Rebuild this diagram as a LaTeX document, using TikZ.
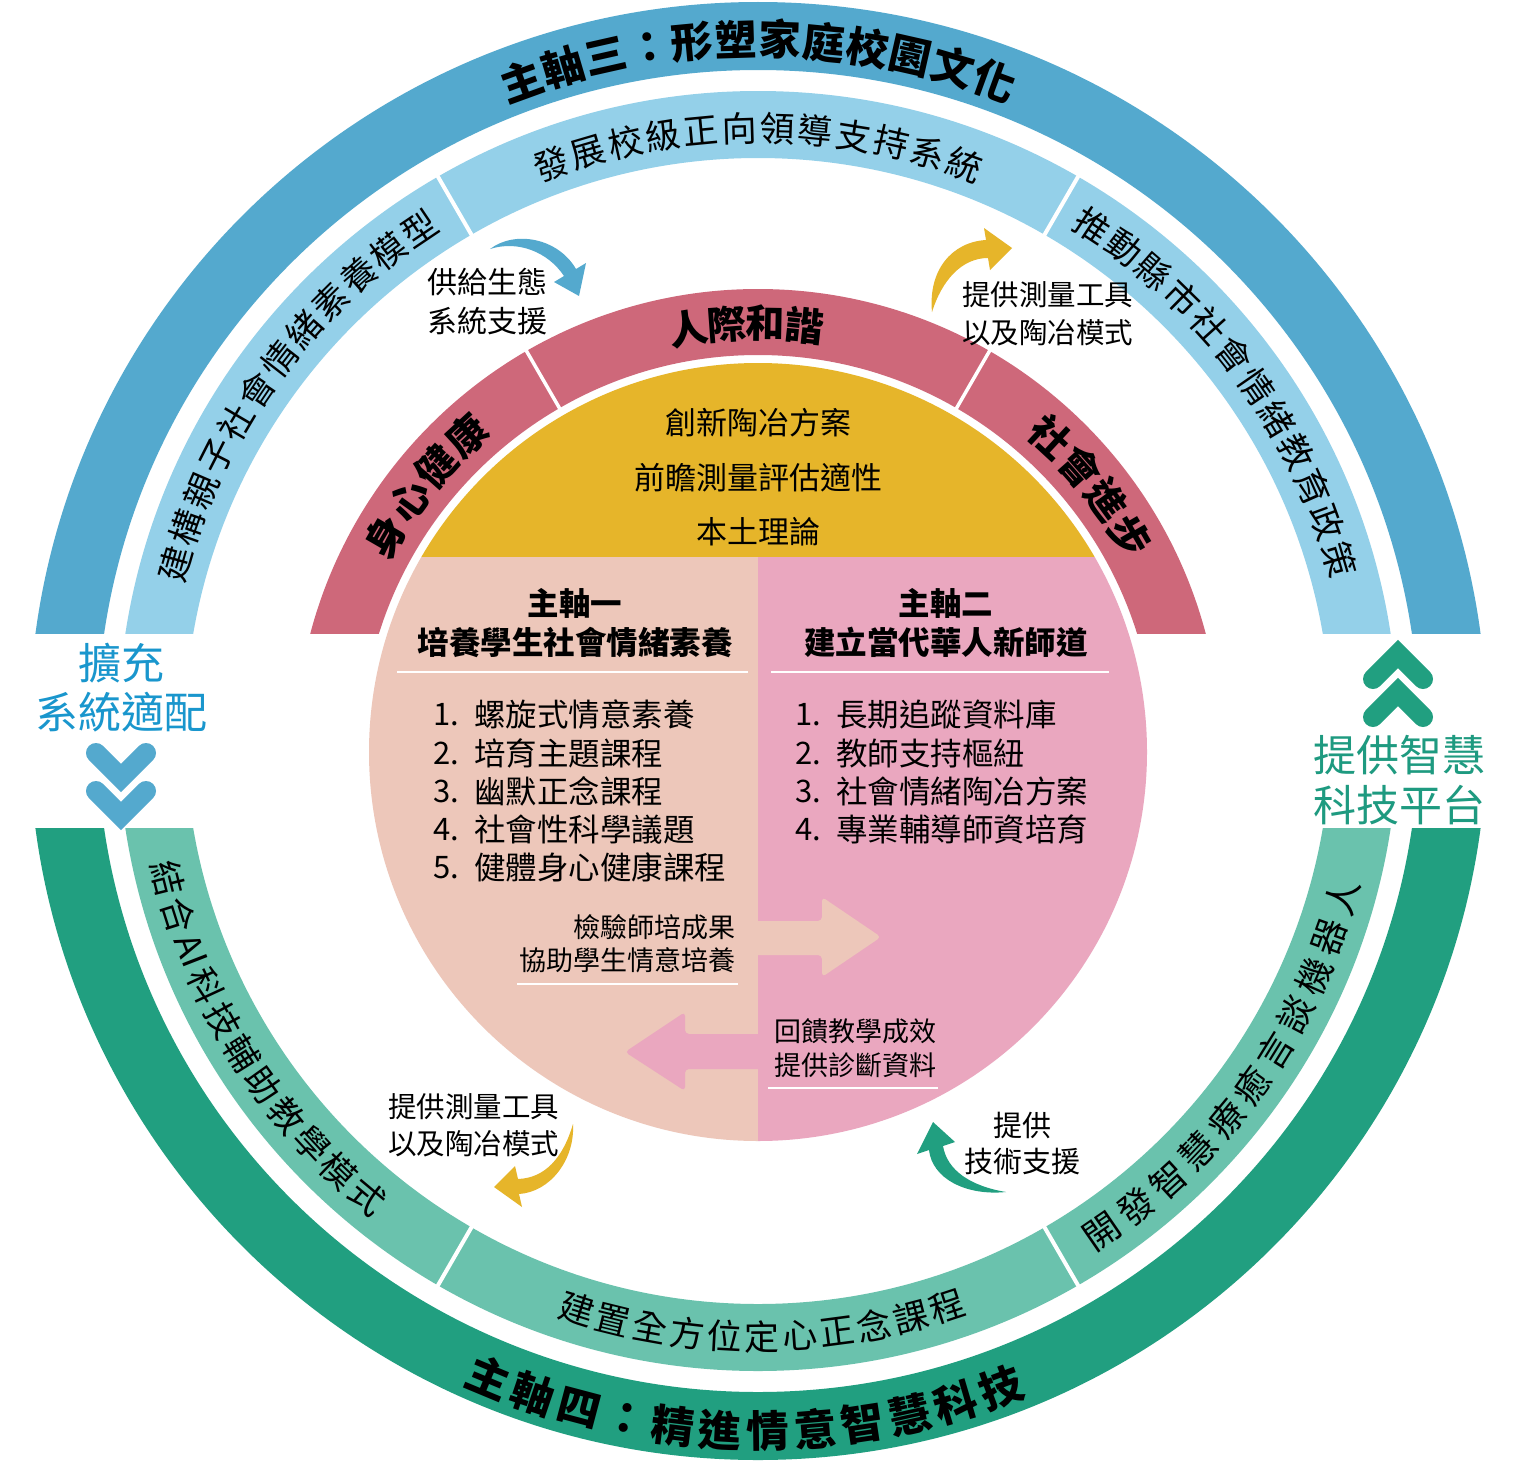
\documentclass[tikz,border=0pt]{standalone}
\usepackage{fontspec}
\setmainfont{Noto Sans CJK TC}
\definecolor{dblue}{RGB}{84,169,206}
\definecolor{lblue}{RGB}{148,208,233}
\definecolor{redc}{RGB}{206,104,122}
\definecolor{yel}{RGB}{230,181,42}
\definecolor{salm}{RGB}{237,199,186}
\definecolor{pnk}{RGB}{234,167,191}
\definecolor{dgreen}{RGB}{33,159,128}
\definecolor{lgreen}{RGB}{106,194,173}
\definecolor{btext}{RGB}{25,150,205}
\definecolor{gtext}{RGB}{30,154,128}
\newcommand\myfs[1]{\fontsize{#1pt}{#1pt}\selectfont}
\newcommand\arctext[7]{%
  \foreach \ch [count=\i from 0] in {#7}{%
    \pgfmathsetmacro\ang{#3+\i*(#4)}%
    \pgfmathsetmacro\rot{\ang+(#5)}%
    \node[arcch, rotate=\rot, font={#6}] at ([shift={(\ang:#2)}]#1) {\ch};
  }}
\tikzset{
  arcch/.style={inner sep=0pt, text=black},
  lbl/.style={inner sep=0pt, text=black},
  chev/.style={line width=20, line cap=round, line join=miter},
  sep/.style={white, line width=4},
  uline/.style={white, line width=2}
}
\begin{document}
\begin{tikzpicture}[x=1pt,y=1pt]
\useasboundingbox (0,0) rectangle (1536,-1472);
\fill[white] (0,0) rectangle (1536,-1472);
\coordinate (O) at (758,-731);
\coordinate (C) at (758,-752);
% ---- top rings
\begin{scope}
  \clip (0,0) rectangle (1536,-633);
  \fill[dblue,even odd rule] (O) circle[radius=729] (O) circle[radius=661];
  \fill[lblue,even odd rule] (O) circle[radius=640] (O) circle[radius=573];
  \foreach \a in {60,120} \draw[sep] ([shift={(\a:566)}]O) -- ([shift={(\a:647)}]O);
  \fill[redc,even odd rule] (C) circle[radius=463] (C) circle[radius=397];
  \foreach \a in {60,120} \draw[sep,line width=3.5] ([shift={(\a:390)}]C) -- ([shift={(\a:470)}]C);
\end{scope}
% ---- bottom rings
\begin{scope}
  \clip (0,-828) rectangle (1536,-1472);
  \fill[dgreen,even odd rule] (O) circle[radius=729] (O) circle[radius=661];
  \fill[lgreen,even odd rule] (O) circle[radius=640] (O) circle[radius=573];
  \foreach \a in {-60,-120} \draw[sep] ([shift={(\a:566)}]O) -- ([shift={(\a:647)}]O);
\end{scope}
% ---- inner disc
\begin{scope}
  \clip (C) circle[radius=389];
  \fill[yel] (300,-300) rectangle (1200,-557);
  \fill[salm] (300,-557) rectangle (758,-1200);
  \fill[pnk] (758,-557) rectangle (1200,-1200);
  \fill[salm, rounded corners=4] (745,-921) -- (822,-921) -- (822,-897) -- (881,-937) -- (822,-977) -- (822,-955) -- (745,-955) -- cycle;
  \fill[pnk, rounded corners=4] (771,-1034) -- (685,-1034) -- (685,-1012) -- (625,-1052) -- (685,-1091) -- (685,-1069) -- (771,-1069) -- cycle;
\end{scope}
\draw[uline] (397,-672) -- (748,-672);
\draw[uline] (771,-672) -- (1109,-672);
\draw[uline] (517,-984) -- (738,-984);
\draw[uline] (768,-1088) -- (938,-1088);
% ---- arc texts
\arctext{O}{692}{110}{-3.64}{-90}{\myfs{42}\bfseries}{主,軸,三,：,形,塑,家,庭,校,園,文,化}
\arctext{O}{700}{-112.6}{3.9}{90}{\myfs{43}\bfseries}{主,軸,四,：,精,進,情,意,智,慧,科,技}
\arctext{O}{603}{110}{-3.64}{-90}{\myfs{35}}{發,展,校,級,正,向,領,導,支,持,系,統}
\arctext{O}{606}{164}{-3.64}{-90}{\myfs{35}}{建,構,親,子,社,會,情,緒,素,養,模,型}
\arctext{O}{606}{56.5}{-3.64}{-90}{\myfs{35}}{推,動,縣,市,社,會,情,緒,教,育,政,策}
\arctext{O}{606}{-107.4}{3.56}{90}{\myfs{35}}{建,置,全,方,位,定,心,正,念,課,程}
\arctext{O}{608}{-166}{3.6}{90}{\myfs{35}}{結,合,AI,科,技,輔,助,教,學,模,式}
\arctext{O}{608}{-55.5}{3.96}{90}{\myfs{36}}{開,發,智,慧,療,癒,言,談,機,器,人}
\arctext{C}{429}{99.4}{-5.2}{-90}{\myfs{39}\bfseries}{人,際,和,諧}
\arctext{C}{430}{47.2}{-5.67}{-90}{\myfs{40}\bfseries}{社,會,進,步}
\arctext{C}{430}{150}{-5.77}{-90}{\myfs{40}\bfseries}{身,心,健,康}
% ---- yellow texts
\node[lbl, font=\myfs{31}] (y1) at (758,-423) {創新陶冶方案};
\node[lbl, font=\myfs{31}] (y2) at (758,-478) {前瞻測量評估適性};
\node[lbl, font=\myfs{31}] (y3) at (758,-532) {本土理論};
% ---- headers
\node[lbl, font=\myfs{31.5}\bfseries] (h1a) at (575,-603) {主軸一};
\node[lbl, font=\myfs{31.5}\bfseries] (h1b) at (575,-642) {培養學生社會情緒素養};
\node[lbl, font=\myfs{31.5}\bfseries] (h2a) at (946,-603) {主軸二};
\node[lbl, font=\myfs{31.5}\bfseries] (h2b) at (946,-642) {建立當代華人新師道};
% ---- lists
\foreach \t [count=\k] in {螺旋式情意素養,培育主題課程,幽默正念課程,社會性科學議題,健體身心健康課程}{
  \pgfmathsetmacro\yy{-715-(\k-1)*38.2}
  \node[lbl, anchor=west, font=\myfs{31}] (la\k) at (433,\yy) {\k.};
  \node[lbl, anchor=west, font=\myfs{31.5}] (lb\k) at (474,\yy) {\t};
}
\foreach \t [count=\k] in {長期追蹤資料庫,教師支持樞紐,社會情緒陶冶方案,專業輔導師資培育}{
  \pgfmathsetmacro\yy{-715-(\k-1)*38.2}
  \node[lbl, anchor=west, font=\myfs{31}] (ra\k) at (795,\yy) {\k.};
  \node[lbl, anchor=west, font=\myfs{31.5}] (rb\k) at (836,\yy) {\t};
}
% ---- inner arrow labels
\node[lbl, anchor=east, font=\myfs{27}] (m1) at (736,-927) {檢驗師培成果};
\node[lbl, anchor=east, font=\myfs{27}] (m2) at (736,-960) {協助學生情意培養};
\node[lbl, anchor=west, font=\myfs{27}] (m3) at (774,-1031) {回饋教學成效};
\node[lbl, anchor=west, font=\myfs{27}] (m4) at (774,-1065) {提供診斷資料};
% ---- curved arrows
\fill[dblue] (490,-249) .. controls (515,-230) and (558,-238) .. (576,-269) -- (586,-263) -- (579,-296) -- (554,-282) -- (564,-276) .. controls (548,-252) and (518,-240) .. cycle;
\fill[yel] (932,-312) .. controls (928,-270) and (952,-242) .. (986,-240) -- (984,-228) -- (1012,-248) -- (990,-270) -- (988,-258) .. controls (962,-258) and (942,-280) .. cycle;
\fill[yel] (573,-1124) .. controls (575,-1160) and (550,-1192) .. (519,-1194) -- (522,-1207) -- (494,-1187) -- (515,-1166) -- (518,-1179) .. controls (545,-1178) and (563,-1158) .. cycle;
\fill[dgreen] (1006,-1192) .. controls (965,-1196) and (932,-1178) .. (929,-1150) -- (917,-1154) -- (933,-1122) -- (955,-1142) -- (943,-1146) .. controls (947,-1170) and (970,-1186) .. cycle;
% ---- outer arrow labels
\node[lbl, anchor=west, font=\myfs{30}] (a1) at (427,-282) {供給生態};
\node[lbl, anchor=west, font=\myfs{30}] (a2) at (427,-321) {系統支援};
\node[lbl, anchor=west, font=\myfs{28.5}] (b1) at (962,-295) {提供測量工具};
\node[lbl, anchor=west, font=\myfs{28.5}] (b2) at (962,-333) {以及陶冶模式};
\node[lbl, anchor=west, font=\myfs{28.5}] (c1) at (388,-1107) {提供測量工具};
\node[lbl, anchor=west, font=\myfs{28.5}] (c2) at (388,-1144) {以及陶冶模式};
\node[lbl, font=\myfs{29}] (d1) at (1022,-1125) {提供};
\node[lbl, font=\myfs{29}] (d2) at (1022,-1162) {技術支援};
% ---- side labels and chevrons
\node[lbl, text=btext, font=\myfs{43}] (s1) at (121,-663) {擴充};
\node[lbl, text=btext, font=\myfs{43}] (s2) at (121,-712) {系統適配};
\draw[chev, dblue] (96,-753) -- (121,-778) -- (146,-753);
\draw[chev, dblue] (96,-791) -- (121,-816) -- (146,-791);
\node[lbl, text=gtext, font=\myfs{43}] (g1) at (1399,-755) {提供智慧};
\node[lbl, text=gtext, font=\myfs{43}] (g2) at (1399,-805) {科技平台};
\draw[chev, dgreen] (1373,-679) -- (1398,-654) -- (1423,-679);
\draw[chev, dgreen] (1373,-717) -- (1398,-692) -- (1423,-717);
\end{tikzpicture}
\end{document}
